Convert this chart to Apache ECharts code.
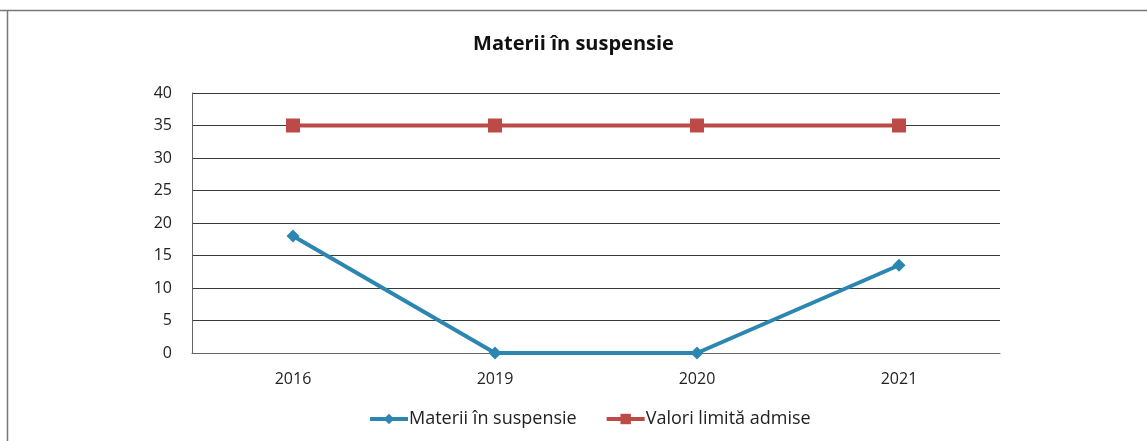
<!DOCTYPE html>
<html>
<head>
<meta charset="utf-8">
<script src="https://cdn.jsdelivr.net/npm/echarts@6/dist/echarts.min.js"></script>
<style>
  html, body { margin: 0; padding: 0; background: #fff; }
  #chart { width: 1147px; height: 441px; }
</style>
</head>
<body>
<div id="chart"></div>
<script>
// Years on the x axis
const years = ['2016', '2019', '2020', '2021'];
// Measured suspended matter
const materii = [18, 0, 0, 13.5];
// Admissible limit values
const limite = [35, 35, 35, 35];
// Y axis scale
const yMin = 0, yMax = 40, yStep = 5;

const font = 'Open Sans, Noto Sans, sans-serif';
const chart = echarts.init(document.getElementById('chart'));
chart.setOption({
  backgroundColor: '#fff',
  animation: false,
  title: {
    text: 'Materii în suspensie',
    left: 'center',
    top: 29,
    textStyle: { fontFamily: font, fontSize: 20, fontWeight: 'bold', color: '#111' }
  },
  legend: {
    bottom: 8,
    left: 363,
    itemGap: 28,
    itemWidth: 38,
    itemHeight: 13,
    lineStyle: { width: 4 },
    textStyle: { fontFamily: font, fontSize: 18, color: '#222', padding: [0, 0, 0, -4] },
    data: ['Materii în suspensie', 'Valori limită admise']
  },
  grid: { left: 192, right: 147, top: 93, bottom: 88 },
  xAxis: {
    type: 'category',
    data: years,
    boundaryGap: true,
    axisLine: { show: true, lineStyle: { color: '#666', width: 1 } },
    axisTick: { show: false },
    axisLabel: { fontFamily: font, fontSize: 16, color: '#222', margin: 18 },
    splitLine: { show: false }
  },
  yAxis: {
    type: 'value',
    min: yMin, max: yMax, interval: yStep,
    axisLine: { show: true, lineStyle: { color: '#666', width: 1 } },
    axisTick: { show: false },
    axisLabel: { fontFamily: font, fontSize: 16, color: '#222', margin: 20 },
    splitLine: { show: true, lineStyle: { color: '#3a3a3a', width: 1 } }
  },
  graphic: [
    { type: 'line', shape: { x1: 0, y1: 10.5, x2: 1147, y2: 10.5 }, style: { stroke: '#777', lineWidth: 1.5 } },
    { type: 'line', shape: { x1: 7.5, y1: 10.5, x2: 7.5, y2: 441 }, style: { stroke: '#777', lineWidth: 1.5 } }
  ],
  series: [
    {
      name: 'Materii în suspensie',
      type: 'line',
      data: materii,
      symbol: 'diamond',
      symbolSize: 13,
      lineStyle: { color: '#2b86b2', width: 4 },
      itemStyle: { color: '#2b86b2' }
    },
    {
      name: 'Valori limită admise',
      type: 'line',
      data: limite,
      symbol: 'rect',
      symbolSize: 14,
      lineStyle: { color: '#bc4a47', width: 4 },
      itemStyle: { color: '#bc4a47' }
    }
  ]
});
</script>
</body>
</html>
